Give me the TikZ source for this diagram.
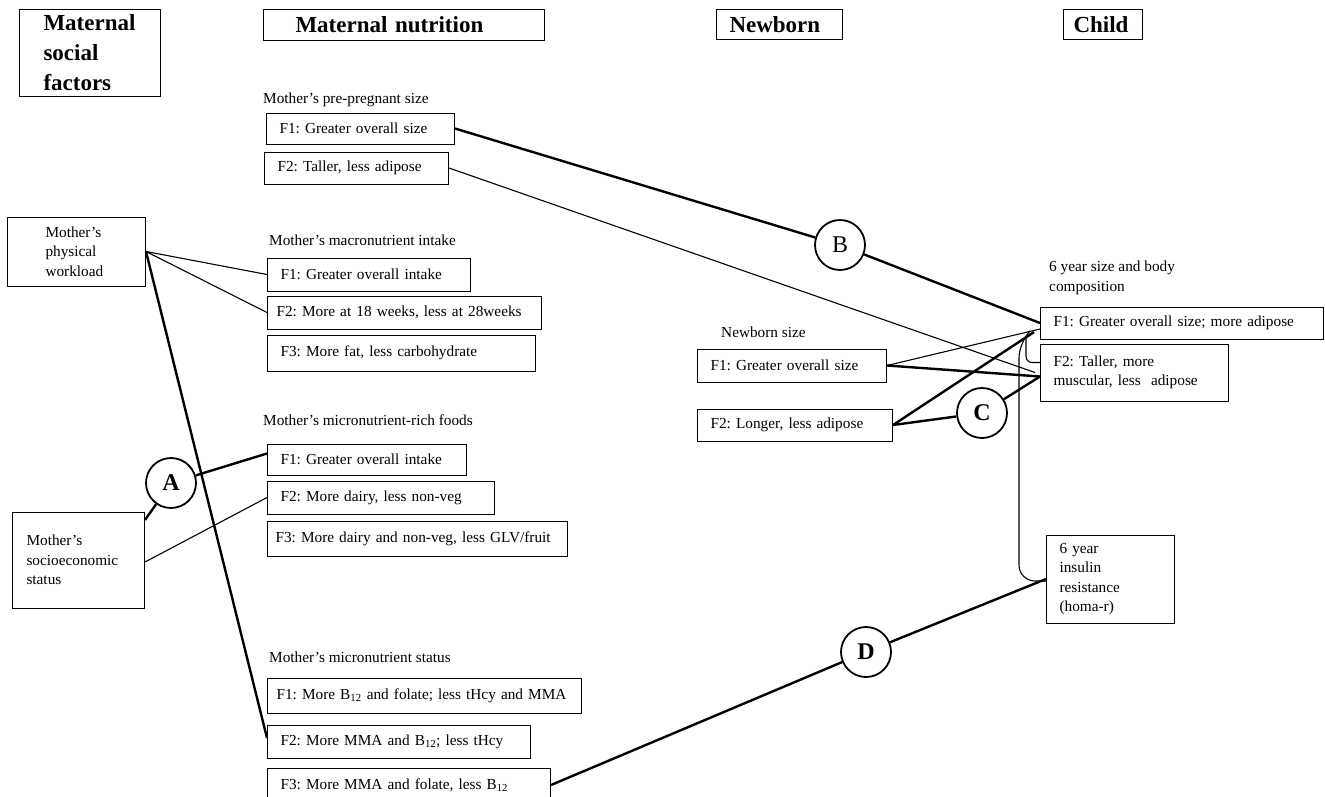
\documentclass[tikz,border=0pt]{standalone}
\usepackage{fontspec}
\setmainfont{Liberation Serif}
\newcommand{\bodyfont}{\frenchspacing\fontsize{15.3}{19.5}\selectfont}
\newcommand{\headfont}{\frenchspacing\bfseries\fontsize{23}{30}\selectfont}
\begin{document}
\begin{tikzpicture}
    [x=1pt, y=-1pt,
    head/.style={draw, line width=1pt, anchor=north west, align=left, font=\headfont, inner ysep=2pt},
    fbox/.style={draw, line width=1pt, anchor=west, align=left, font=\bodyfont, minimum height=34pt, inner xsep=13pt, inner ysep=2pt},
    lbl/.style={anchor=west, inner sep=0pt, align=left, font=\bodyfont},
    grp/.style={circle, draw, line width=1.8pt, fill=white, minimum size=50pt, inner sep=0pt, font=\bfseries\fontsize{24}{24}\selectfont},
    thinline/.style={line width=1.1pt},
    thickline/.style={line width=2.4pt}]
    \clip (0,0) rectangle (1325,796);
    % \draw[help lines, step=50] (0,0) grid (1325,796);
    \node[head, text width=93pt, inner xsep=24pt, minimum height=87pt] (hsoc) at (19,9) {Maternal\\social\\factors};
    \node[head, text width=217pt, inner xsep=32pt, minimum height=31pt] (hnut) at (263,9) {Maternal nutrition};
    \node[head, text width=100pt, inner xsep=13pt, minimum height=30pt] (hnew) at (716,9) {Newborn};
    \node[head, text width=59pt, inner xsep=10pt, minimum height=30pt] (hchild) at (1063,9) {Child};
    %
    \node[fbox, text width=62pt, inner xsep=38pt, minimum height=69pt] (wl) at (7,251.5) {Mother’s\\physical\\workload};
    \node[fbox, text width=104pt, inner xsep=14pt, minimum height=96pt] (so) at (12,560) {Mother’s\\socioeconomic\\status};
    %
    \node[lbl] (pl) at (263,100) {Mother’s pre-pregnant size};
    \node[fbox, text width=162pt, minimum height=31pt] (pF1) at (266,128.5) {F1: Greater overall size};
    \node[fbox, text width=158pt, minimum height=32pt] (pF2) at (264,168) {F2: Taller, less adipose};
    %
    \node[lbl] (ml) at (269,240) {Mother’s macronutrient intake};
    \node[fbox, text width=177pt, minimum height=33pt] (mF1) at (267,274.5) {F1: Greater overall intake};
    \node[fbox, text width=256pt, inner xsep=9pt, minimum height=33pt] (mF2) at (267,312.5) {\mbox{F2: More at 18 weeks, less at 28weeks}};
    \node[fbox, text width=242pt, minimum height=36pt] (mF3) at (267,353) {F3: More fat, less carbohydrate};
    %
    \node[lbl] (rl) at (263,420) {Mother’s micronutrient-rich foods};
    \node[fbox, text width=173pt, minimum height=31pt] (rF1) at (267,459.5) {F1: Greater overall intake};
    \node[fbox, text width=201pt, minimum height=33pt] (rF2) at (267,497.5) {F2: More dairy, less non-veg};
    \node[fbox, text width=284pt, inner xsep=8pt, minimum height=35pt] (rF3) at (267,538.5) {\mbox{F3: More dairy and non-veg, less GLV/fruit}};
    %
    \node[lbl] (sl) at (269,657) {Mother’s micronutrient status};
    \node[fbox, text width=296pt, inner xsep=9pt, minimum height=35pt] (sF1) at (267,696) {\mbox{F1: More B\textsubscript{12} and folate; less tHcy and MMA}};
    \node[fbox, text width=237pt, minimum height=33pt] (sF2) at (267,742) {F2: More MMA and B\textsubscript{12}; less tHcy};
    \node[fbox, text width=257pt, minimum height=34pt] (sF3) at (267,785) {F3: More MMA and folate, less B\textsubscript{12}};
    %
    \node[lbl] (nl) at (721,332) {Newborn size};
    \node[fbox, text width=163pt, minimum height=33pt] (nF1) at (697,365.5) {F1: Greater overall size};
    \node[fbox, text width=169pt, minimum height=32pt] (nF2) at (697,425) {F2: Longer, less adipose};
    %
    \node[lbl] (cl) at (1049,278) {6 year size and body\\composition};
    \node[fbox, text width=257pt, minimum height=32pt] (cF1) at (1040,323) {F1: Greater overall size; more adipose};
    \node[fbox, text width=162pt, minimum height=57pt] (cF2) at (1040,372.5) {F2: Taller, more\\muscular, less\ \ adipose};
    \node[fbox, text width=102pt, minimum height=88pt] (ins) at (1046,579) {6 year\\insulin\\resistance\\(homa-r)};
    %
    \node[grp] (A) at (171,483) {A};
    \node[grp, font=\fontsize{24}{24}\selectfont] (B) at (840,245) {B};
    \node[grp] (C) at (982,413) {C};
    \node[grp] (D) at (866,652) {D};
    %
    \coordinate (rtop) at (1019,342);
    \coordinate (rtip) at (1030,331);
    \coordinate (stop) at (1026,336);
    %
    \draw[thinline] (wl.east) -- (mF1.west);
    \draw[thinline] (wl.east) -- (mF2.west);
    \draw[thickline] (wl.east) -- ([yshift=4pt]sF2.west);
    \draw[thickline] ([yshift=40pt]so.east) -- (A);
    \draw[thickline] (A) -- ([yshift=6pt]rF1.west);
    \draw[thinline] ([yshift=-2pt]so.east) -- (rF2.west);
    \draw[thickline] (pF1.east) -- (B);
    \draw[thickline] (B) -- (cF1.west);
    \draw[thinline] (pF2.east) -- ([xshift=-5pt]cF2.west);
    \draw[thinline] (nF1.east) -- ([yshift=-6pt]cF1.west);
    \draw[thickline] (nF1.east) -- ([yshift=-4pt]cF2.west);
    \draw[thickline] (nF2.east) -- ([xshift=-6pt, yshift=-9pt]cF1.west);
    \draw[thickline] (nF2.east) -- (C);
    \draw[thickline] (C) -- ([yshift=-4pt]cF2.west);
    \draw[thickline] (sF3.east) -- (D);
    \draw[thickline] (D) -- (ins.west);
    \draw[thinline, rounded corners=16pt] ([yshift=-2pt]ins.west) -| (rtop) [rounded corners=4pt] -- (rtip);
    \draw[thinline, rounded corners=6pt] (stop) |- ([yshift=10pt]cF2.west);
\end{tikzpicture}
\end{document}
